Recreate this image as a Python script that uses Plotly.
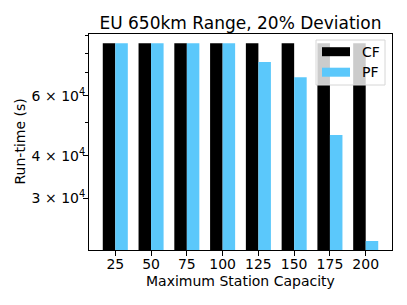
import plotly.graph_objects as go

categories = ["25", "50", "75", "100", "125", "150", "175", "200"]
cf_values = [85500, 85500, 85500, 85500, 85500, 85500, 85500, 85500]
pf_values = [85500, 85500, 85500, 85500, 75300, 68000, 46000, 22500]
ytick_vals = [30000, 40000, 60000]
ytick_text = ["3 × 10<sup>4</sup>", "4 × 10<sup>4</sup>", "6 × 10<sup>4</sup>"]
yminor_vals = [50000, 70000, 80000, 90000]

FONT = "DejaVu Sans"
BLUE = "#5bc8fb"

fig = go.Figure()
fig.add_trace(go.Bar(x=categories, y=cf_values, name="CF", marker=dict(color="black", line=dict(width=0))))
fig.add_trace(go.Bar(x=categories, y=pf_values, name="PF", marker=dict(color=BLUE, line=dict(width=0))))

W, H = 407, 305
L, R, T, B = 89, 15, 34, 55

fig.update_layout(
    width=W, height=H,
    margin=dict(l=L, r=R, t=T, b=B, autoexpand=False),
    paper_bgcolor="white", plot_bgcolor="white",
    barmode="group", bargap=0.3, bargroupgap=0,
    showlegend=False,
    font=dict(family=FONT, size=14, color="black"),
    title=dict(text="EU 650km Range, 20% Deviation", x=0.5, xref="paper", xanchor="center",
               y=1 - 23 / H, yref="container", yanchor="middle", automargin=False,
               font=dict(family=FONT, size=17, color="black")),
    xaxis=dict(type="category", range=[-0.735, 7.735], showline=True, linecolor="black", linewidth=1,
               mirror=True, ticks="outside", ticklen=5, tickcolor="black", showgrid=False,
               automargin=False, tickfont=dict(size=14), ticklabelstandoff=-4),
    yaxis=dict(type="log", range=[4.3255, 4.959], showline=True, linecolor="black", linewidth=1,
               mirror=True, ticks="outside", ticklen=5, tickcolor="black", showgrid=False,
               automargin=False, ticklabelstandoff=-5,
               tickmode="array", tickvals=ytick_vals, ticktext=ytick_text,
               minor=dict(tickmode="array", tickvals=yminor_vals, ticks="outside", ticklen=3,
                          tickcolor="black", showgrid=False),
               tickfont=dict(size=14), zeroline=False),
)

def px(x):
    return (x - L) / (W - L - R)

def py(y):
    return 1 - (y - T) / (H - T - B)

# axis titles
fig.add_annotation(text="Maximum Station Capacity", xref="paper", yref="paper", x=px(240.5), y=py(280.5),
                   xanchor="center", yanchor="middle", showarrow=False, borderpad=0,
                   font=dict(family=FONT, size=14))
fig.add_annotation(text="Run-time (s)", xref="paper", yref="paper", x=px(19), y=py(141.5), textangle=-90,
                   xanchor="center", yanchor="middle", showarrow=False, borderpad=0,
                   font=dict(family=FONT, size=14))

# legend box (matplotlib style)
fig.add_shape(type="rect", xref="paper", yref="paper", x0=px(316), x1=px(385), y0=py(85), y1=py(40),
              line=dict(color="#d6d6d6", width=1), fillcolor="rgba(255,255,255,0.8)", layer="above")
for i, (nm, col) in enumerate([("CF", "black"), ("PF", BLUE)]):
    yc = 51.7 + i * 20.5
    fig.add_shape(type="rect", xref="paper", yref="paper", x0=px(322), x1=px(350),
                  y0=py(yc + 4.5), y1=py(yc - 4.5), line=dict(width=0), fillcolor=col, layer="above")
    fig.add_annotation(text=nm, xref="paper", yref="paper", x=px(360), y=py(yc), xanchor="left",
                       yanchor="middle", showarrow=False, font=dict(family=FONT, size=14, color="black"))

fig.write_html("out.html", config={"displayModeBar": False},
               post_script="document.body.style.margin='0';")
